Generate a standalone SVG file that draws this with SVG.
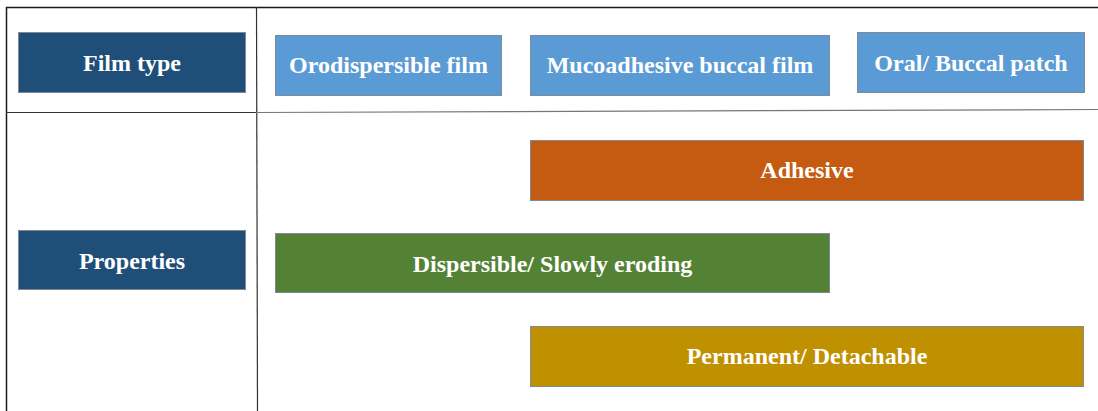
<svg xmlns="http://www.w3.org/2000/svg" width="1098" height="411" viewBox="0 0 1098 411">
  <style>
    .box { stroke: #7f8a96; stroke-width: 1; }
    .head { fill: #1f4e79; }
    .film { fill: #5b9bd5; }
    .adh { fill: #c55a11; }
    .disp { fill: #548235; }
    .perm { fill: #bf9000; }
    .lbl { font-family: "Liberation Serif", "Times New Roman", serif; font-weight: bold; font-size: 24px; fill: #ffffff; text-anchor: middle; }
  </style>
  <rect width="1098" height="411" fill="#ffffff"/>

  <!-- table frame -->
  <g id="frame" fill="none">
    <line x1="6" y1="7.5" x2="1098" y2="7.5" stroke="#1a1a1a" stroke-width="1.5"/>
    <line x1="6.5" y1="7" x2="6.5" y2="411" stroke="#1a1a1a" stroke-width="1.5"/>
    <line x1="256.5" y1="7" x2="257.5" y2="411" stroke="#333333" stroke-width="1.2"/>
    <line x1="6" y1="112.5" x2="256" y2="112.5" stroke="#333333" stroke-width="1.2"/>
    <line x1="256" y1="112.5" x2="1098" y2="109.5" stroke="#777777" stroke-width="1.2"/>
  </g>

  <!-- row headers -->
  <g id="film-type">
    <rect class="box head" x="18.5" y="32.5" width="227" height="60"/>
    <text class="lbl" x="132" y="71">Film type</text>
  </g>
  <g id="properties">
    <rect class="box head" x="18.5" y="230.5" width="227" height="59"/>
    <text class="lbl" x="132" y="269">Properties</text>
  </g>

  <!-- film types -->
  <g id="orodispersible">
    <rect class="box film" x="275.5" y="35.5" width="226" height="60"/>
    <text class="lbl" x="388.5" y="73">Orodispersible film</text>
  </g>
  <g id="mucoadhesive">
    <rect class="box film" x="530.5" y="35.5" width="299" height="60"/>
    <text class="lbl" x="680" y="73">Mucoadhesive buccal film</text>
  </g>
  <g id="patch">
    <rect class="box film" x="857.5" y="32.5" width="227" height="60"/>
    <text class="lbl" x="971" y="71">Oral/ Buccal patch</text>
  </g>

  <!-- property bars -->
  <g id="adhesive">
    <rect class="box adh" x="530.5" y="140.5" width="553" height="60"/>
    <text class="lbl" x="807" y="178">Adhesive</text>
  </g>
  <g id="dispersible">
    <rect class="box disp" x="275.5" y="233.5" width="554" height="59"/>
    <text class="lbl" x="552.5" y="272">Dispersible/ Slowly eroding</text>
  </g>
  <g id="permanent">
    <rect class="box perm" x="530.5" y="326.5" width="553" height="60"/>
    <text class="lbl" x="807" y="364">Permanent/ Detachable</text>
  </g>

  <g id="connectors"/>
</svg>
